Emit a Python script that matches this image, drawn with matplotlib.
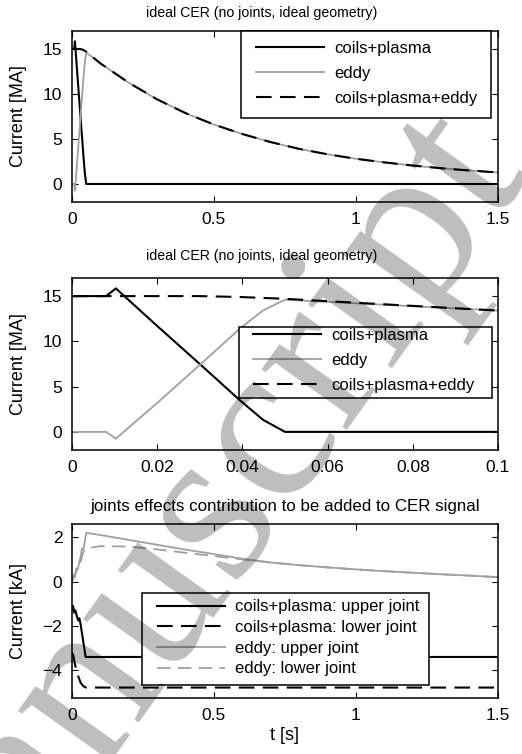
import matplotlib
matplotlib.use('Agg')
import matplotlib.pyplot as plt
from matplotlib.patches import Rectangle

plt.rcParams['font.family'] = ['Liberation Sans', 'DejaVu Sans']

# time base for the CER plots [s]
t_cer = [0, 0.008, 0.0103, 0.02, 0.03, 0.0394, 0.0448, 0.05, 0.1, 0.2, 0.3, 0.4, 0.5,
         0.6, 0.7, 0.8, 0.9, 1.0, 1.1, 1.2, 1.3, 1.4, 1.5]
# currents [MA]
coils_plasma = [15, 15, 15.85, 11.7, 7.5, 3.5, 1.35, 0, 0, 0, 0, 0, 0,
                0, 0, 0, 0, 0, 0, 0, 0, 0, 0]
eddy = [0, 0, -0.75, 3.2, 7.4, 11.4, 13.4, 14.6, 13.4, 11.25, 9.4, 7.87, 6.6,
        5.55, 4.65, 3.9, 3.3, 2.8, 2.4, 2.05, 1.75, 1.5, 1.28]
total = [15, 15, 15, 15, 15, 14.9, 14.8, 14.7, 13.4, 11.25, 9.4, 7.87, 6.6,
         5.55, 4.65, 3.9, 3.3, 2.8, 2.4, 2.05, 1.75, 1.5, 1.28]

# joints effects [kA]
t_cp = [0, 0.004, 0.008, 0.012, 0.018, 0.022, 0.026, 0.03, 0.048, 0.1, 0.5, 1.0, 1.5]
cp_upper = [-1.2, -1.1, -1.4, -1.3, -1.6, -1.75, -1.65, -1.9, -3.4, -3.4, -3.4, -3.4, -3.4]
t_cpl = [0, 0.005, 0.01, 0.02, 0.03, 0.04, 0.05, 0.1, 0.5, 1.0, 1.5]
cp_lower = [-3.2, -3.35, -3.7, -4.2, -4.55, -4.72, -4.78, -4.78, -4.78, -4.78, -4.78]
t_ed = [0, 0.005, 0.01, 0.015, 0.02, 0.03, 0.035, 0.04, 0.05, 0.1, 0.2, 0.3, 0.4, 0.5,
        0.6, 0.7, 0.8, 0.9, 1.0, 1.1, 1.2, 1.3, 1.4, 1.5]
eddy_upper = [0, 0.3, 0.2, 0.6, 0.55, 1.1, 1.5, 1.45, 2.2, 2.1, 1.88, 1.66, 1.44, 1.24,
              1.03, 0.86, 0.74, 0.64, 0.55, 0.47, 0.4, 0.33, 0.27, 0.2]
eddy_lower = [0, 0.15, 0.3, 0.45, 0.6, 0.9, 1.1, 1.35, 1.5, 1.6, 1.58, 1.45, 1.3, 1.15,
              1.0, 0.86, 0.74, 0.64, 0.55, 0.47, 0.4, 0.33, 0.27, 0.2]

GRAY = '#a0a0a0'
DASH = (7.5, 4)

fig = plt.figure(figsize=(5.22, 7.54), dpi=100)
ax1 = fig.add_axes([0.1379, 0.7321, 0.8161, 0.2268])
ax2 = fig.add_axes([0.1379, 0.4032, 0.8161, 0.2281])
ax3 = fig.add_axes([0.1379, 0.0743, 0.8161, 0.2308])


def style(ax):
    ax.tick_params(direction='in', top=True, right=True, length=4, width=0.8,
                   labelsize=12.5, pad=7)
    for s in ax.spines.values():
        s.set_linewidth(1.1)
    ax.yaxis.set_label_coords(-0.106, 0.5)


def legend(ax, box, anchor, spacing):
    # box drawn separately (matlab style: tight vertically, wider sideways)
    x0, y0, x1, y1 = box
    ax.add_patch(Rectangle((x0, y0), x1 - x0, y1 - y0, transform=ax.transAxes,
                           facecolor='white', edgecolor='black', lw=1.1,
                           zorder=4.5, clip_on=False))
    leg = ax.legend(loc='upper left', bbox_to_anchor=anchor, fontsize=12,
                    handlelength=4.1, handletextpad=0.6, labelspacing=spacing,
                    borderpad=0, borderaxespad=0, frameon=False)
    return leg


# top: full time range
ax1.plot(t_cer, coils_plasma, color='black', lw=1.5, label='coils+plasma')
ax1.plot(t_cer, eddy, color=GRAY, lw=1.3, label='eddy')
ax1.plot(t_cer, total, color='black', lw=1.5, dashes=DASH, label='coils+plasma+eddy')
ax1.set_xlim(0, 1.5)
ax1.set_ylim(-2, 17)
ax1.set_xticks([0, 0.5, 1, 1.5])
ax1.set_xticklabels(['0', '0.5', '1', '1.5'])
ax1.set_yticks([0, 5, 10, 15])
ax1.set_ylabel('Current [MA]', fontsize=13)
ax1.set_title('ideal CER (no joints, ideal geometry)', fontsize=10.2, pad=10.3, x=0.446)
style(ax1)
legend(ax1, (0.396, 0.491, 0.9836, 1.0), (0.432, 0.944), 0.62)

# middle: zoom on first 0.1 s
ax2.plot(t_cer, coils_plasma, color='black', lw=1.5, label='coils+plasma')
ax2.plot(t_cer, eddy, color=GRAY, lw=1.3, label='eddy')
ax2.plot(t_cer, total, color='black', lw=1.5, dashes=DASH, label='coils+plasma+eddy')
ax2.set_xlim(0, 0.1)
ax2.set_ylim(-2, 17)
ax2.set_xticks([0, 0.02, 0.04, 0.06, 0.08, 0.1])
ax2.set_xticklabels(['0', '0.02', '0.04', '0.06', '0.08', '0.1'])
ax2.set_yticks([0, 5, 10, 15])
ax2.set_ylabel('Current [MA]', fontsize=13)
ax2.set_title('ideal CER (no joints, ideal geometry)', fontsize=10.2, pad=12.7, x=0.446)
style(ax2)
legend(ax2, (0.392, 0.302, 0.986, 0.715), (0.425, 0.712), 0.62)

# bottom: joints
ax3.plot(t_cp, cp_upper, color='black', lw=1.5, label='coils+plasma: upper joint')
ax3.plot(t_cpl, cp_lower, color='black', lw=1.5, dashes=DASH, label='coils+plasma: lower joint')
ax3.plot(t_ed, eddy_upper, color=GRAY, lw=1.3, label='eddy: upper joint')
ax3.plot(t_ed, eddy_lower, color=GRAY, lw=1.3, dashes=DASH, label='eddy: lower joint')
ax3.set_xlim(0, 1.5)
ax3.set_ylim(-5.25, 2.6)
ax3.set_xticks([0, 0.5, 1, 1.5])
ax3.set_xticklabels(['0', '0.5', '1', '1.5'])
ax3.set_yticks([-4, -2, 0, 2])
ax3.set_yticklabels(['\u22124', '\u22122', '0', '2'])
ax3.set_ylabel('Current [kA]', fontsize=13)
ax3.set_xlabel('t [s]', fontsize=13, labelpad=3)
ax3.set_title('joints effects contribution to be added to CER signal', fontsize=12.2, pad=9.5)
style(ax3)
legend(ax3, (0.164, 0.0747, 0.838, 0.603), (0.1995, 0.566), 0.34)

# watermark
fig.text(0.431, 0.212, 'Manuscript', family='Liberation Serif', fontsize=165,
         rotation=54.5, rotation_mode='anchor', ha='center',
         va='baseline', color='black', alpha=0.26, zorder=10)

fig.savefig('out.png', dpi=100)
